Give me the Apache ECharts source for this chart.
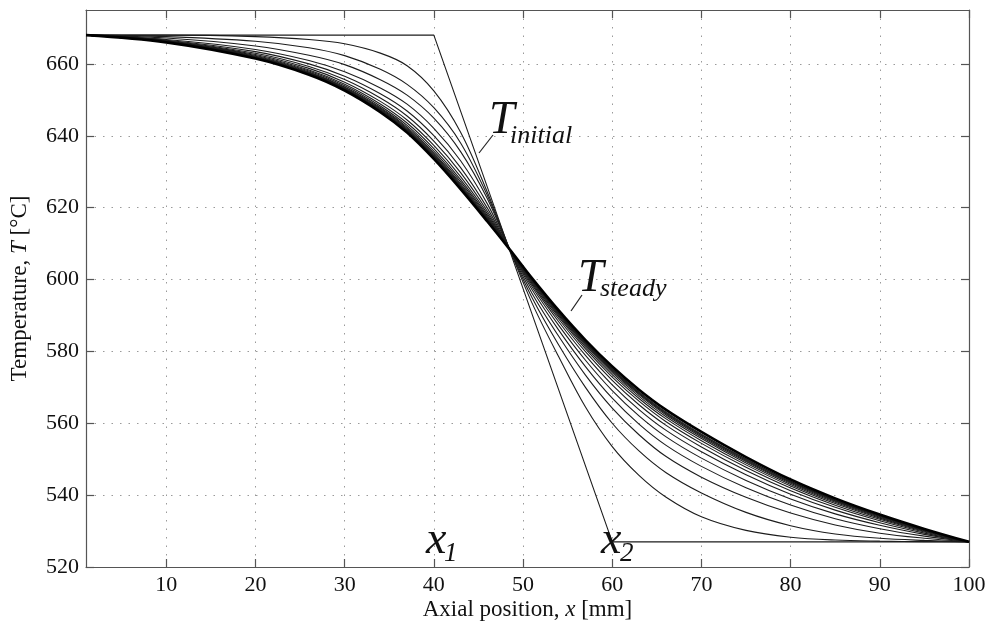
<!DOCTYPE html>
<html><head><meta charset="utf-8">
<script src="https://cdn.jsdelivr.net/npm/echarts@6/dist/echarts.min.js"></script>
<style>html,body{margin:0;padding:0;background:#fff}#c{width:994px;height:633px}</style>
</head><body><div id="c"></div>
<script>
// axial positions (mm) at which the profiles were read
const xPos = [1,10,20,26,30,34,37,40,43,46,48.5,51,54,57,60,63,66,70,75,80,85,90,95,100];
// initial (piecewise linear) profile
const initialX = [1,40,60,100];
const initialT = [668,668,527,527];
// transient profiles (earliest first)
const c1  = [668,668,667.6,666.8,665.6,663,659.5,652.5,641,624.3,608.4,593.5,578.5,564.5,553.5,545.5,539.5,534,530.2,528.3,527.5,527.2,527.05,527];
const c2  = [668,667.6,666.3,664.5,662.3,658.5,654.3,647.8,638,623.4,608.4,595,581.8,570,560,552.3,546.3,540.6,535.2,531.5,529.2,528,527.4,527];
const c3  = [668,667.2,665,662.4,659.8,655.6,651.3,644.9,635.6,622.5,608.4,596.2,584.2,573.4,564.2,556.8,550.8,545,539.4,535,531.7,529.4,528,527];
const c4  = [668,666.79,664.03,660.95,657.81,653.32,648.8,642.08,633.05,621.05,608.4,597.23,585.93,575.76,566.97,559.75,553.91,548,542.06,537.25,533.44,530.66,528.58,527];
const c5  = [668,666.6,663.42,660,656.56,651.7,646.9,640.03,631.15,619.87,608.4,597.99,587.24,577.53,569.08,562.05,556.28,550.3,544.1,538.95,534.79,531.61,529.07,527];
const c6  = [668,666.46,662.97,659.3,655.64,650.51,645.5,638.52,629.75,619,608.4,598.57,588.24,578.88,570.69,563.8,558.08,552.05,545.66,540.24,535.83,532.32,529.43,527];
const c7  = [668,666.35,662.62,658.75,654.91,649.58,644.4,637.33,628.65,618.32,608.4,599.01,589.01,579.92,571.94,565.15,559.47,553.4,546.86,541.24,536.62,532.88,529.72,527];
const c8  = [668,666.27,662.35,658.33,654.35,648.85,643.55,636.41,627.8,617.79,608.4,599.34,589.58,580.69,572.86,566.15,560.5,554.4,547.75,541.98,537.21,533.29,529.93,527];
const c9  = [668,666.2,662.14,658,653.92,648.3,642.9,635.71,627.15,617.39,608.4,599.59,590,581.26,573.55,566.9,561.28,555.15,548.42,542.54,537.65,533.6,530.09,527];
const c10 = [668,666.15,661.98,657.75,653.59,647.88,642.4,635.17,626.65,617.08,608.4,599.79,590.35,581.73,574.1,567.5,561.89,555.75,548.95,542.98,538.01,533.84,530.21,527];
const c11 = [668,666.12,661.87,657.58,653.36,647.58,642.05,634.79,626.3,616.86,608.4,599.94,590.6,582.07,574.51,567.95,562.36,556.2,549.35,543.31,538.27,534.03,530.31,527];
const c12 = [668,666.09,661.78,657.44,653.17,647.34,641.77,634.49,626.02,616.69,608.4,600.05,590.79,582.33,574.82,568.28,562.7,556.53,549.65,543.56,538.47,534.16,530.38,527];
const c13 = [668,666.07,661.71,657.33,653.04,647.16,641.56,634.26,625.81,616.56,608.4,600.13,590.94,582.53,575.05,568.54,562.97,556.79,549.88,543.75,538.62,534.27,530.43,527];
const c14 = [668,666.05,661.66,657.25,652.93,647.03,641.4,634.09,625.65,616.46,608.4,600.2,591.05,582.67,575.23,568.73,563.16,556.98,550.05,543.89,538.73,534.35,530.47,527];
// steady-state profile
const steady = [668,666,661.5,657,652.6,646.6,640.9,633.55,625.15,616.15,608.4,600.4,591.4,583.15,575.8,569.35,563.8,557.6,550.6,544.35,539.1,534.6,530.6,527];
// tick labels
const xTicks = [10,20,30,40,50,60,70,80,90,100];
const yTicks = [520,540,560,580,600,620,640,660];

const transients = [c1,c2,c3,c4,c5,c6,c7,c8,c9,c10,c11,c12,c13,c14];
const FONT = '"Liberation Serif", "Times New Roman", serif';
const LINE = '#1c1c1c';
const AXIS = '#555';
const toPairs = arr => xPos.map((x, i) => [x, arr[i]]);

const series = [];
series.push({
  type: 'line', name: 'initial', xAxisIndex: 0, yAxisIndex: 0,
  data: initialX.map((x, i) => [x, initialT[i]]),
  symbol: 'none', smooth: false,
  lineStyle: { color: LINE, width: 1.1 }, z: 3
});
transients.forEach((arr, k) => {
  series.push({
    type: 'line', name: 't' + (k + 1), xAxisIndex: 0, yAxisIndex: 0,
    data: toPairs(arr), symbol: 'none', smooth: 0.35,
    lineStyle: { color: LINE, width: 1.1 }, z: 3
  });
});
series.push({
  type: 'line', name: 'steady', xAxisIndex: 0, yAxisIndex: 0,
  data: toPairs(steady), symbol: 'none', smooth: 0.35,
  lineStyle: { color: '#000', width: 2.6 }, z: 4
});

const dotted = { type: [1.5, 7], color: '#9a9a9a', width: 1 };
const nameStyle = {
  fontFamily: FONT, fontSize: 23, color: '#111',
  rich: { i: { fontFamily: FONT, fontSize: 23, fontStyle: 'italic', color: '#111' } }
};

const option = {
  animation: false,
  backgroundColor: '#fff',
  grid: { left: 86, right: 25, top: 10, bottom: 66, containLabel: false },
  xAxis: [{
    type: 'value', min: 1, max: 100, position: 'bottom',
    axisLine: { show: true, onZero: false, lineStyle: { color: AXIS, width: 1.2 } },
    axisTick: { show: true, inside: true, length: 8, customValues: xTicks, lineStyle: { color: AXIS, width: 1.2 } },
    axisLabel: { customValues: xTicks, fontFamily: FONT, fontSize: 22, color: '#111', margin: 7 },
    splitLine: { show: true, lineStyle: dotted },
    name: 'Axial position, {i|x} [mm]', nameLocation: 'middle', nameGap: 31,
    nameMoveOverlap: false,
    nameTextStyle: nameStyle
  }, {
    type: 'value', min: 1, max: 100, position: 'top',
    axisLine: { show: true, onZero: false, lineStyle: { color: AXIS, width: 1.2 } },
    axisTick: { show: true, inside: true, length: 8, customValues: xTicks, lineStyle: { color: AXIS, width: 1.2 } },
    axisLabel: { show: false },
    splitLine: { show: false }
  }],
  yAxis: [{
    type: 'value', min: 520, max: 675, position: 'left',
    axisLine: { show: true, onZero: false, lineStyle: { color: AXIS, width: 1.2 } },
    axisTick: { show: true, inside: true, length: 8, customValues: yTicks, lineStyle: { color: AXIS, width: 1.2 } },
    axisLabel: { customValues: yTicks, fontFamily: FONT, fontSize: 22, color: '#111', margin: 7 },
    splitLine: { show: true, lineStyle: dotted },
    name: 'Temperature, {i|T} [°C]', nameLocation: 'middle', nameGap: 55,
    nameMoveOverlap: false,
    nameTextStyle: nameStyle
  }, {
    type: 'value', min: 520, max: 675, position: 'right',
    axisLine: { show: true, onZero: false, lineStyle: { color: AXIS, width: 1.2 } },
    axisTick: { show: true, inside: true, length: 8, customValues: yTicks, lineStyle: { color: AXIS, width: 1.2 } },
    axisLabel: { show: false },
    splitLine: { show: false }
  }],
  series: series,
  graphic: [
    { type: 'line', shape: { x1: 479, y1: 153, x2: 493, y2: 135 }, style: { stroke: '#222', lineWidth: 1.2 }, z: 10 },
    { type: 'text', style: { text: 'T', x: 489, y: 121, font: 'italic 46px ' + FONT, fill: '#111', textAlign: 'left', textVerticalAlign: 'middle' }, z: 10 },
    { type: 'text', style: { text: 'initial', x: 510, y: 136, font: 'italic 26px ' + FONT, fill: '#111', textAlign: 'left', textVerticalAlign: 'middle' }, z: 10 },
    { type: 'line', shape: { x1: 571, y1: 311, x2: 582, y2: 295 }, style: { stroke: '#222', lineWidth: 1.2 }, z: 10 },
    { type: 'text', style: { text: 'T', x: 578, y: 279, font: 'italic 46px ' + FONT, fill: '#111', textAlign: 'left', textVerticalAlign: 'middle' }, z: 10 },
    { type: 'text', style: { text: 'steady', x: 600, y: 289, font: 'italic 26px ' + FONT, fill: '#111', textAlign: 'left', textVerticalAlign: 'middle' }, z: 10 },
    { type: 'text', style: { text: 'x', x: 426, y: 541, font: 'italic 46px ' + FONT, fill: '#111', textAlign: 'left', textVerticalAlign: 'middle' }, z: 10 },
    { type: 'text', style: { text: '1', x: 444, y: 554, font: 'italic 27px ' + FONT, fill: '#111', textAlign: 'left', textVerticalAlign: 'middle' }, z: 10 },
    { type: 'text', style: { text: 'x', x: 601, y: 541, font: 'italic 46px ' + FONT, fill: '#111', textAlign: 'left', textVerticalAlign: 'middle' }, z: 10 },
    { type: 'text', style: { text: '2', x: 620, y: 554, font: 'italic 27px ' + FONT, fill: '#111', textAlign: 'left', textVerticalAlign: 'middle' }, z: 10 }
  ]
};

const chart = echarts.init(document.getElementById('c'), null, { renderer: 'canvas' });
chart.setOption(option);
</script>
</body></html>
